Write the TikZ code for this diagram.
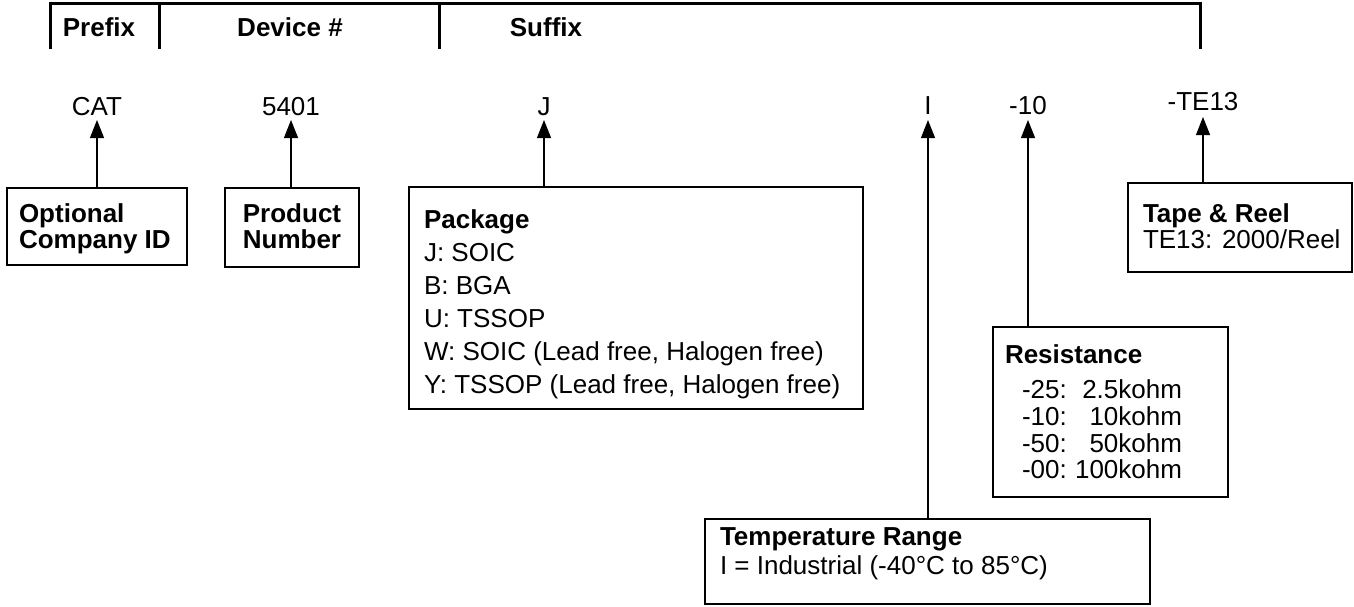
\documentclass[tikz,border=0pt]{standalone}
\usepackage{fontspec}
\setmainfont{Liberation Sans}
\usetikzlibrary{arrows.meta}
\begin{document}
\begin{tikzpicture}[x=1pt,y=-1pt,
 txt/.style={inner sep=0pt, outer sep=0pt, anchor=base, font=\fontsize{26}{30}\selectfont},
 ltxt/.style={txt, anchor=base west},
 rtxt/.style={txt, anchor=base east},
 btxt/.style={txt, font=\fontsize{26}{30}\selectfont\bfseries},
 lbtxt/.style={btxt, anchor=base west},
 box/.style={draw, line width=2pt, anchor=north west, inner sep=0pt, outer sep=0pt},
 arr/.style={line width=1.1pt, -{Triangle[length=18pt,width=14pt]}},
 bracket/.style={line width=3pt}]
\useasboundingbox (0,0) rectangle (1354,606);

% header bracket
\coordinate (bl) at (50,49);
\coordinate (br) at (1200,49);
\draw[bracket] (bl) -- (50,3) -- (1200,3) -- (br);
\draw[bracket] (159,3) -- (159,49);
\draw[bracket] (439,3) -- (439,49);
\node[btxt] (hpre) at (99,36) {Prefix};
\node[btxt] (hdev) at (290,36) {Device \#};
\node[btxt] (hsuf) at (546,36) {Suffix};

% part number pieces
\node[txt] (cat) at (97,115) {CAT};
\node[txt] (dev) at (291,115) {5401};
\node[txt] (pk) at (544,115) {J};
\node[txt] (tr) at (928,114) {I};
\node[txt] (rs) at (1028,114) {-10};
\node[txt] (tp) at (1203,110) {-TE13};

% boxes
\node[box, minimum width=180pt, minimum height=77pt] (ocid) at (7,188) {};
\node[box, minimum width=134pt, minimum height=79pt] (prod) at (225,188) {};
\node[box, minimum width=454pt, minimum height=222pt] (pkg) at (409,187) {};
\node[box, minimum width=224pt, minimum height=89pt] (tape) at (1128,183) {};
\node[box, minimum width=235pt, minimum height=170pt] (res) at (993,327) {};
\node[box, minimum width=445pt, minimum height=85pt] (temp) at (705,519) {};

% box texts
\node[lbtxt] (ocid1) at (19,222) {Optional};
\node[lbtxt] (ocid2) at (19,248) {Company ID};
\node[btxt] (prod1) at (292,222) {Product};
\node[btxt] (prod2) at (292,248) {Number};

\node[lbtxt] (pkg0) at (424,228) {Package};
\node[ltxt] (pkg1) at (424,261) {J: SOIC};
\node[ltxt] (pkg2) at (424,294) {B: BGA};
\node[ltxt] (pkg3) at (424,327) {U: TSSOP};
\node[ltxt] (pkg4) at (424,360) {W: SOIC (Lead free, Halogen free)};
\node[ltxt] (pkg5) at (424,393) {Y: TSSOP (Lead free, Halogen free)};

\node[lbtxt] (tape0) at (1143,222) {Tape \& Reel};
\node[ltxt] (tape1) at (1143,248) {TE13: 2000/Reel};

\node[lbtxt] (res0) at (1005,363) {Resistance};
\node[ltxt] (resa1) at (1022,398) {-25:};
\node[rtxt] (resb1) at (1182,398) {2.5kohm};
\node[ltxt] (resa2) at (1022,425) {-10:};
\node[rtxt] (resb2) at (1182,425) {10kohm};
\node[ltxt] (resa3) at (1022,452) {-50:};
\node[rtxt] (resb3) at (1182,452) {50kohm};
\node[ltxt] (resa4) at (1022,478) {-00:};
\node[rtxt] (resb4) at (1182,478) {100kohm};

\node[lbtxt] (temp0) at (720,545) {Temperature Range};
\node[ltxt] (temp1) at (720,574) {I = Industrial (-40°C to 85°C)};

% connectors
\draw[arr] (ocid.north -| cat.base) -- ([yshift=-5pt]cat.base);
\draw[arr] (prod.north -| dev.base) -- ([yshift=-5pt]dev.base);
\draw[arr] (pkg.north -| pk.base) -- ([yshift=-5pt]pk.base);
\draw[arr] (temp.north -| tr.base) -- ([yshift=-6pt]tr.base);
\draw[arr] (res.north -| rs.base) -- ([yshift=-6pt]rs.base);
\draw[arr] (tape.north -| tp.base) -- ([yshift=-7pt]tp.base);
\end{tikzpicture}
\end{document}
